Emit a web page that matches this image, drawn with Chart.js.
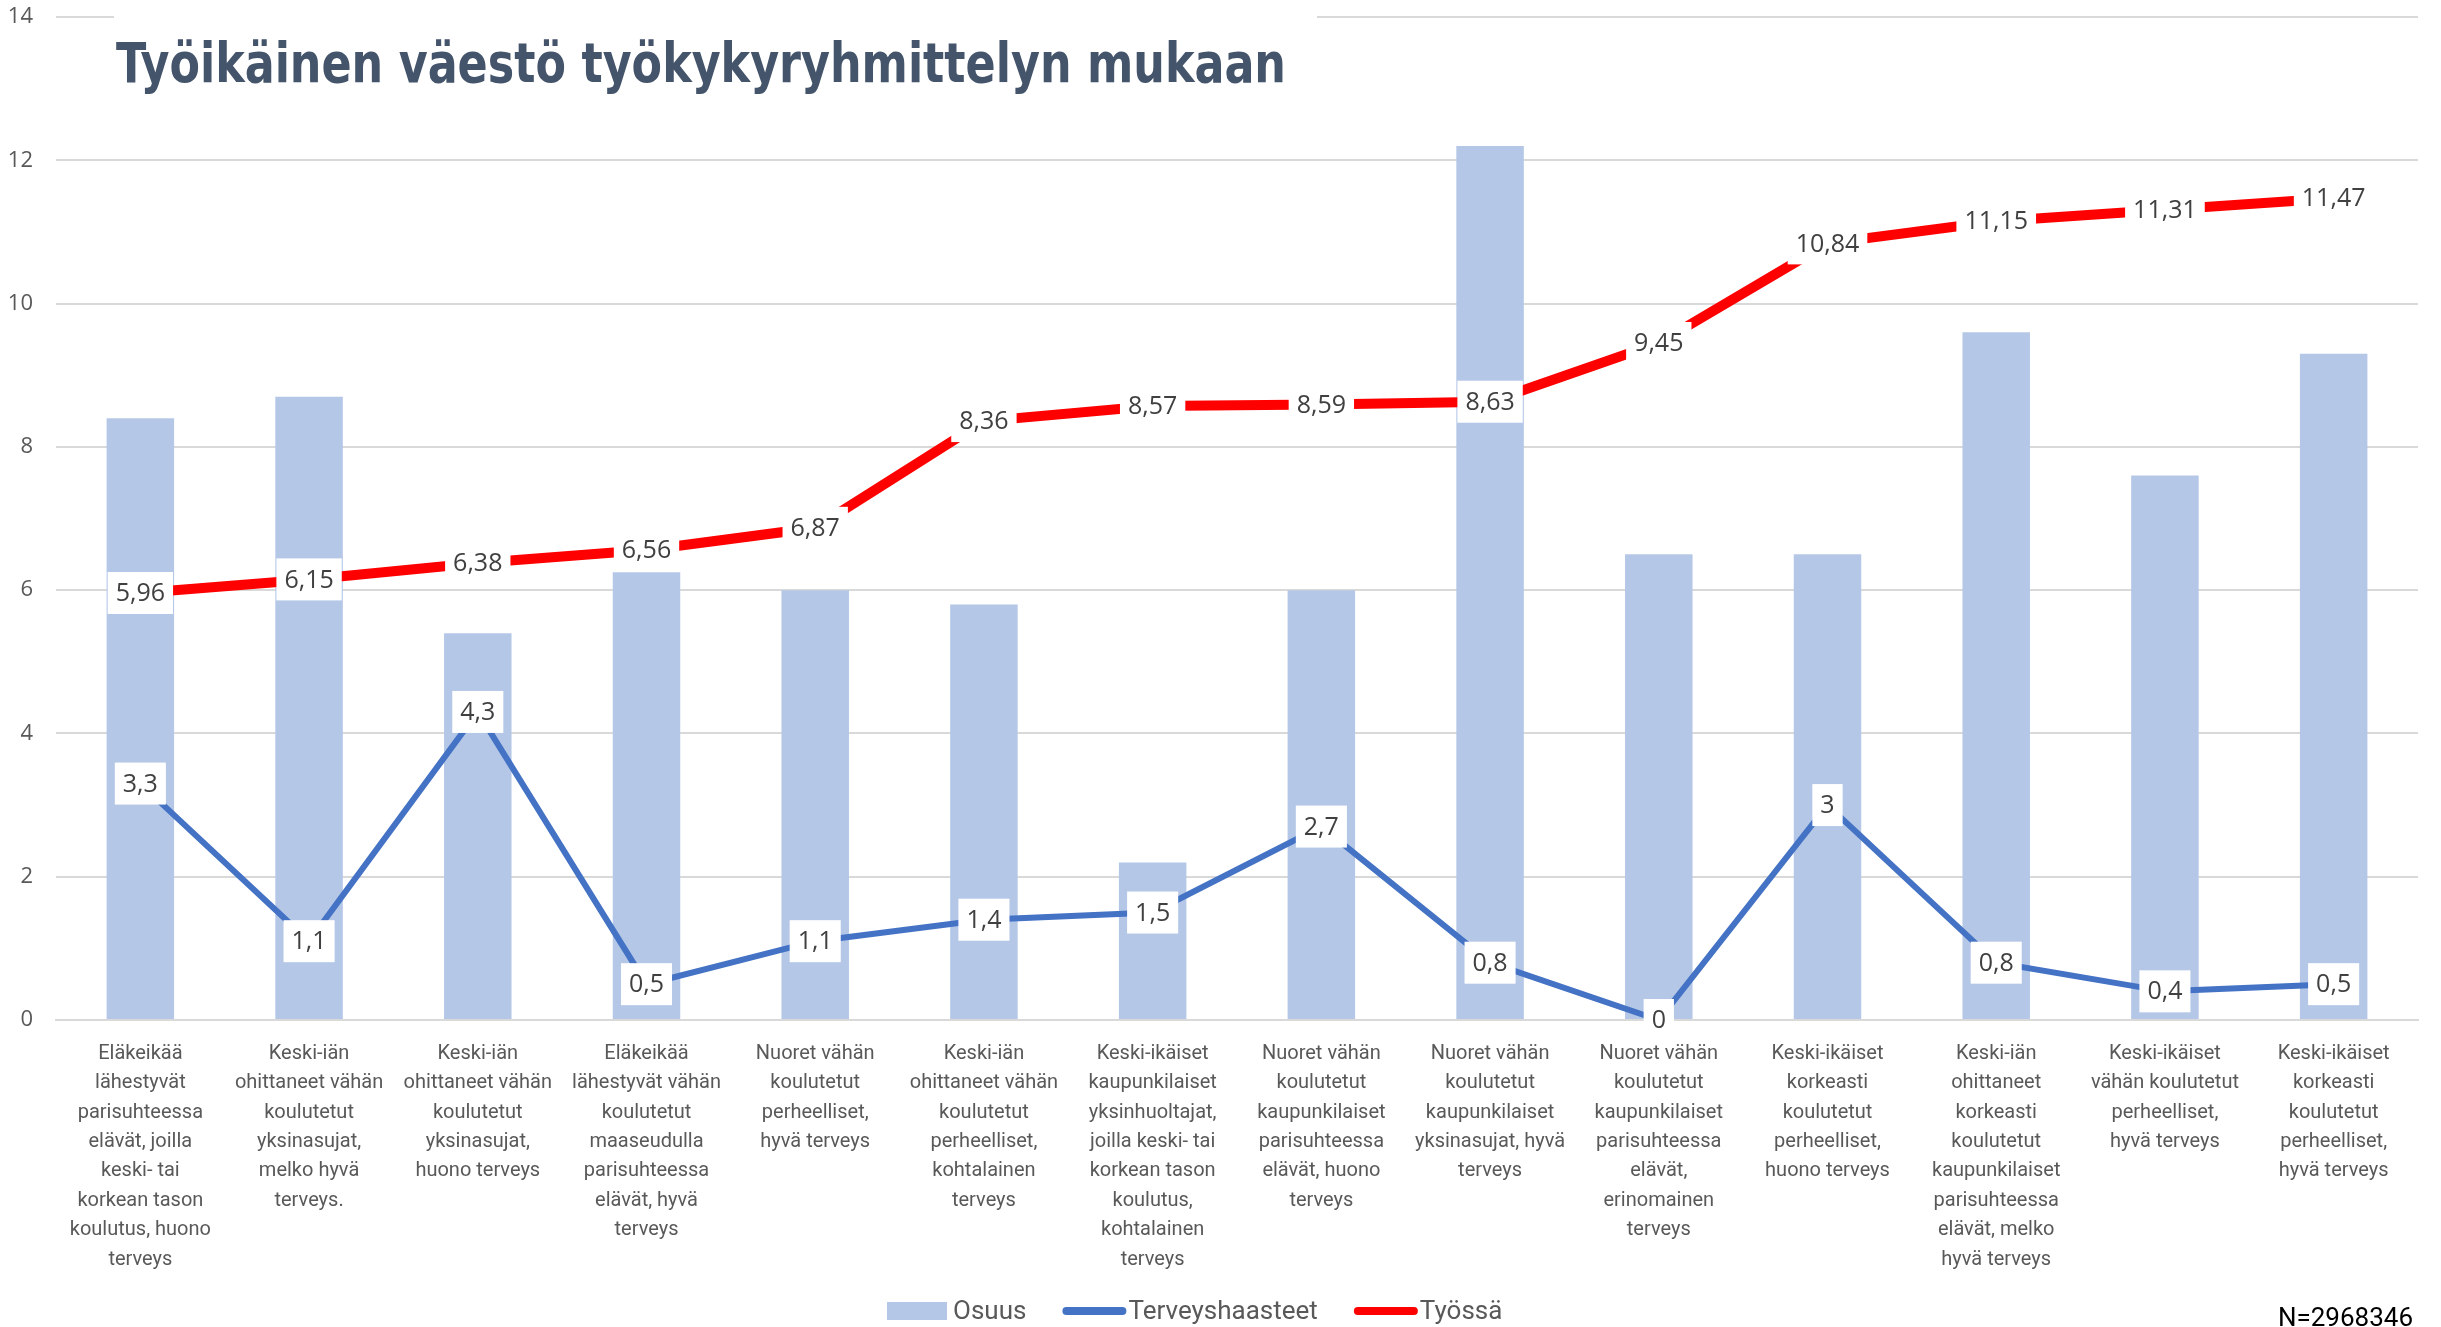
<!DOCTYPE html>
<html lang="fi">
<head>
<meta charset="utf-8">
<title>Työikäinen väestö työkykyryhmittelyn mukaan</title>
<script src="https://cdn.jsdelivr.net/npm/chart.js@4"></script>
<style>
  html, body { margin: 0; padding: 0; background: #fff; }
  #wrap { width: 2441px; height: 1327px; }
</style>
</head>
<body>
<div id="wrap"><canvas id="chart" width="2441" height="1327"></canvas></div>
<script>
// ============================================
// Data
// ============================================

const chartTitle = 'Työikäinen väestö työkykyryhmittelyn mukaan'
const footNote = 'N=2968346'
const seriesNames = ['Osuus', 'Terveyshaasteet', 'Työssä']

const categories = [
  ['Eläkeikää', 'lähestyvät', 'parisuhteessa', 'elävät, joilla', 'keski- tai', 'korkean tason', 'koulutus, huono', 'terveys'],
  ['Keski-iän', 'ohittaneet vähän', 'koulutetut', 'yksinasujat,', 'melko hyvä', 'terveys.'],
  ['Keski-iän', 'ohittaneet vähän', 'koulutetut', 'yksinasujat,', 'huono terveys'],
  ['Eläkeikää', 'lähestyvät vähän', 'koulutetut', 'maaseudulla', 'parisuhteessa', 'elävät, hyvä', 'terveys'],
  ['Nuoret vähän', 'koulutetut', 'perheelliset,', 'hyvä terveys'],
  ['Keski-iän', 'ohittaneet vähän', 'koulutetut', 'perheelliset,', 'kohtalainen', 'terveys'],
  ['Keski-ikäiset', 'kaupunkilaiset', 'yksinhuoltajat,', 'joilla keski- tai', 'korkean tason', 'koulutus,', 'kohtalainen', 'terveys'],
  ['Nuoret vähän', 'koulutetut', 'kaupunkilaiset', 'parisuhteessa', 'elävät, huono', 'terveys'],
  ['Nuoret vähän', 'koulutetut', 'kaupunkilaiset', 'yksinasujat, hyvä', 'terveys'],
  ['Nuoret vähän', 'koulutetut', 'kaupunkilaiset', 'parisuhteessa', 'elävät,', 'erinomainen', 'terveys'],
  ['Keski-ikäiset', 'korkeasti', 'koulutetut', 'perheelliset,', 'huono terveys'],
  ['Keski-iän', 'ohittaneet', 'korkeasti', 'koulutetut', 'kaupunkilaiset', 'parisuhteessa', 'elävät, melko', 'hyvä terveys'],
  ['Keski-ikäiset', 'vähän koulutetut', 'perheelliset,', 'hyvä terveys'],
  ['Keski-ikäiset', 'korkeasti', 'koulutetut', 'perheelliset,', 'hyvä terveys']
]

const osuus = [8.4, 8.7, 5.4, 6.25, 6.0, 5.8, 2.2, 6.0, 12.2, 6.5, 6.5, 9.6, 7.6, 9.3]
const terveyshaasteet = [3.3, 1.1, 4.3, 0.5, 1.1, 1.4, 1.5, 2.7, 0.8, 0, 3, 0.8, 0.4, 0.5]
const tyossa = [5.96, 6.15, 6.38, 6.56, 6.87, 8.36, 8.57, 8.59, 8.63, 9.45, 10.84, 11.15, 11.31, 11.47]
const yTicks = [0, 2, 4, 6, 8, 10, 12, 14]

const colors = { bar: '#B4C7E7', blue: '#4472C4', red: '#FF0000', text: '#595959', label: '#404040', grid: '#D9D9D9', title: '#44546A' }

// ============================================
// Plugins
// ============================================

// data labels in white boxes, on top of the lines
const valueLabels = {
  id: 'valueLabels',
  afterDatasetsDraw(chart) {
    const ctx = chart.ctx
    ctx.save()
    ctx.font = '25px "Open Sans", sans-serif'
    ctx.textAlign = 'center'
    ctx.textBaseline = 'middle'
    chart.data.datasets.forEach((ds, i) => {
      if (ds.type !== 'line') return
      chart.getDatasetMeta(i).data.forEach((pt, j) => {
        const txt = String(ds.data[j]).replace('.', ',')
        const w = ctx.measureText(txt).width + 16
        const h = 42
        ctx.fillStyle = '#fff'
        ctx.fillRect(pt.x - w / 2, pt.y - h / 2, w, h)
        ctx.fillStyle = colors.label
        ctx.fillText(txt, pt.x, pt.y + 1)
      })
    })
    ctx.restore()
  }
}

// title box, legend and footnote
const decorations = {
  id: 'decorations',
  afterDraw(chart) {
    const ctx = chart.ctx
    ctx.save()

    // title sits over the top gridline, condensed like the original
    ctx.fillStyle = '#fff'
    ctx.fillRect(114, 0, 1203, 100)
    ctx.font = 'bold 56px "Liberation Sans Narrow", "DejaVu Sans Condensed", sans-serif'
    ctx.fillStyle = colors.title
    ctx.textAlign = 'left'
    ctx.textBaseline = 'alphabetic'
    const tw = ctx.measureText(chartTitle).width
    ctx.save()
    ctx.translate(116, 82)
    ctx.scale(Math.min(1, 1170 / tw), 1)
    ctx.fillText(chartTitle, 0, 0)
    ctx.restore()

    // legend
    ctx.font = '26px Roboto, sans-serif'
    ctx.textBaseline = 'middle'
    let x = 887
    const cy = 1311
    const dsColors = [colors.bar, colors.blue, colors.red]
    seriesNames.forEach((name, i) => {
      if (i === 0) {
        ctx.fillStyle = dsColors[i]
        ctx.fillRect(x, cy - 9, 60, 18)
      } else {
        ctx.strokeStyle = dsColors[i]
        ctx.lineWidth = 8
        ctx.lineCap = 'round'
        ctx.beginPath()
        ctx.moveTo(x + 4, cy)
        ctx.lineTo(x + 60, cy)
        ctx.stroke()
      }
      ctx.fillStyle = colors.text
      ctx.fillText(name, x + 66, cy + 1)
      x += 66 + ctx.measureText(name).width + 36
    })

    // footnote, partly cut by the bottom edge as in the source
    ctx.font = '26px Roboto, sans-serif'
    ctx.fillStyle = '#000'
    ctx.textAlign = 'right'
    ctx.textBaseline = 'top'
    ctx.fillText(footNote, 2413, 1306)
    ctx.restore()
  }
}

// ============================================
// Chart
// ============================================

new Chart(document.getElementById('chart'), {
  data: {
    labels: categories,
    datasets: [
      { type: 'bar', label: seriesNames[0], data: osuus, backgroundColor: colors.bar, borderWidth: 0, barPercentage: 0.4, categoryPercentage: 1, order: 3 },
      { type: 'line', label: seriesNames[1], data: terveyshaasteet, borderColor: colors.blue, borderWidth: 6, pointRadius: 0, tension: 0, order: 2 },
      { type: 'line', label: seriesNames[2], data: tyossa, borderColor: colors.red, borderWidth: 10, pointRadius: 0, tension: 0, order: 1 }
    ]
  },
  options: {
    responsive: false,
    devicePixelRatio: 1,
    animation: false,
    layout: { padding: { top: 17, right: 23, left: 0, bottom: 0 } },
    plugins: { legend: { display: false }, tooltip: { enabled: false }, title: { display: false } },
    scales: {
      x: {
        grid: { display: false, drawTicks: false },
        border: { display: true, color: colors.grid, width: 2 },
        ticks: { autoSkip: false, maxRotation: 0, minRotation: 0, padding: 19, color: colors.text, font: { family: 'Roboto', size: 20, lineHeight: 1.47 } },
        afterFit: s => { s.height = 307 }
      },
      y: {
        min: 0,
        max: 14,
        afterBuildTicks: s => { s.ticks = yTicks.map(v => ({ value: v })) },
        grid: { color: colors.grid, lineWidth: 2, drawTicks: false },
        border: { display: false },
        ticks: { padding: 23, color: colors.text, font: { family: 'Open Sans', size: 22 } },
        afterFit: s => { s.width = 56; s.paddingTop = 0; s.paddingBottom = 0 }
      }
    }
  },
  plugins: [valueLabels, decorations]
})
</script>
</body>
</html>
